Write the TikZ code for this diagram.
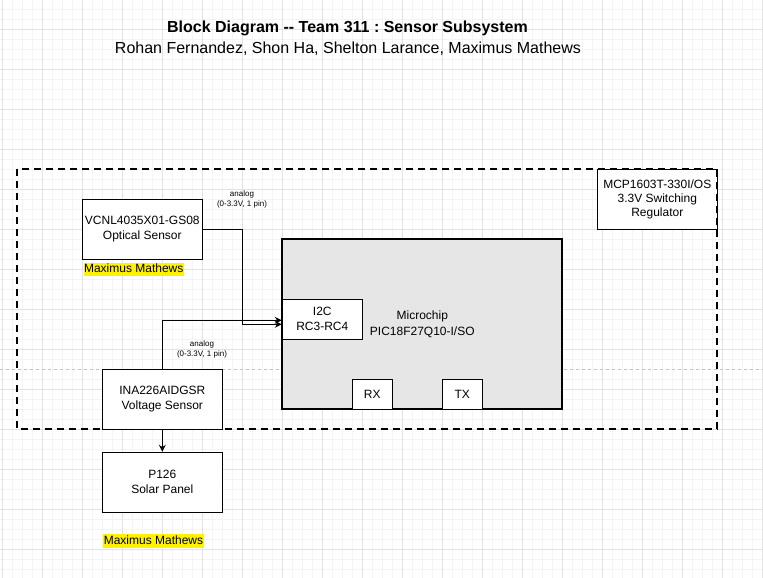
\documentclass[tikz,border=0pt]{standalone}
\usepackage{fontspec}
\setmainfont{Liberation Sans}
\usetikzlibrary{arrows.meta}
\frenchspacing

\definecolor{gridmajor}{HTML}{E2E2E2}
\definecolor{gridminor}{HTML}{F4F4F4}
\definecolor{pagebreak}{HTML}{C4C4C4}
\definecolor{chipgray}{HTML}{E6E6E6}

\tikzset{
    block/.style={draw, line width=1pt, fill=white, minimum width=120pt, minimum height=60pt,
        inner sep=0pt, align=center, font=\fontsize{12}{15}\selectfont},
    pinbox/.style={block, minimum width=40pt, minimum height=30pt},
    wire/.style={line width=1pt, -{Stealth[length=7pt,width=7pt]}},
    sig/.style={align=center, font=\fontsize{8}{9.5}\selectfont},
    owner/.style={fill=yellow, inner xsep=0.5pt, inner ysep=0.5pt, text height=9.5pt,
        text depth=2.8pt, font=\fontsize{12}{14}\selectfont}
}

\begin{document}
\begin{tikzpicture}[x=1pt, y=-1pt]
    \useasboundingbox (0,0) rectangle (763,578);
    \fill[white] (0,0) rectangle (763,578);

    % Background grid
    \foreach \x in {2.3,12.3,...,763} {
        \draw[gridminor, line width=1pt] (\x,0) -- (\x,578);
    }
    \foreach \y in {9.3,19.3,...,578} {
        \draw[gridminor, line width=1pt] (0,\y) -- (763,\y);
    }
    \foreach \x in {2.3,42.3,...,763} {
        \draw[gridmajor, line width=1pt] (\x,0) -- (\x,578);
    }
    \foreach \y in {29.3,69.3,...,578} {
        \draw[gridmajor, line width=1pt] (0,\y) -- (763,\y);
    }
    \draw[pagebreak, line width=0.8pt, dash pattern=on 3pt off 3pt] (0,369.3) -- (763,369.3);

    % Title
    \node[font=\fontsize{16}{19}\selectfont\bfseries] (title) at (347.5,28.5) {Block Diagram -{}- Team 311 : Sensor Subsystem};
    \node[font=\fontsize{16}{19}\selectfont] (authors) at (348,48.5) {Rohan Fernandez, Shon Ha, Shelton Larance, Maximus Mathews};

    % Regulator and subsystem border
    \node[block, align=center, font=\fontsize{12}{14}\selectfont] (reg) at (657.3,199.3) {MCP1603T-330I/OS\\3.3V Switching\\Regulator};
    \draw[line width=2pt, dash pattern=on 7pt off 5pt] (17.3,169.3) rectangle (717.3,429.3);

    % Microcontroller
    \node[draw, line width=2pt, fill=chipgray, minimum width=280pt, minimum height=170pt, align=center,
        font=\fontsize{12}{15.5}\selectfont] (mcu) at (422.3,324.3) {Microchip\\PIC18F27Q10-I/SO};
    \node[block, minimum width=80pt, minimum height=40pt] (i2c) at (322.3,319.3) {I2C\\RC3-RC4};
    \node[pinbox] (rx) at (372.3,394.3) {RX};
    \node[pinbox] (tx) at (462.3,394.3) {TX};

    % Sensors
    \node[block] (optical) at (142.3,229.3) {VCNL4035X01-GS08\\Optical Sensor};
    \node[owner] (ownerA) at (133.7,269.3) {Maximus Mathews};
    \node[block] (voltage) at (162.3,399.3) {INA226AIDGSR\\Voltage Sensor};
    \node[block] (solar) at (162.3,482.3) {P126\\Solar Panel};
    \node[owner] (ownerB) at (153.5,541) {Maximus Mathews};

    % Connections
    \coordinate (bendA) at (242.3,324.3);
    \draw[wire] (optical.east) -| (bendA) -- (bendA -| i2c.west);
    \draw[wire] (voltage.north) |- ([yshift=-1pt]i2c.west);
    \draw[wire] (voltage.south) -- (solar.north);

    % Signal labels
    \node[sig] (sigA) at (242,199.5) {analog\\(0-3.3V, 1 pin)};
    \node[sig] (sigB) at (202,349.5) {analog\\(0-3.3V, 1 pin)};
\end{tikzpicture}
\end{document}
